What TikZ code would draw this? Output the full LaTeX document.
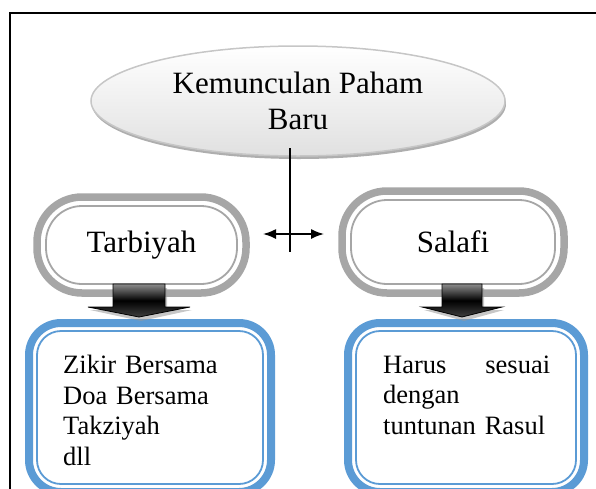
\documentclass[tikz,border=0pt]{standalone}
\usepackage{fontspec}
\setmainfont{Liberation Serif}
\usetikzlibrary{shapes.geometric,arrows.meta,shadows,calc}
\definecolor{boxgray}{HTML}{A6A6A6}
\definecolor{accblue}{HTML}{5B9BD5}
\begin{document}
\begin{tikzpicture}[x=1pt,y=-1pt,
  bigtext/.style={font=\fontsize{31pt}{36pt}\selectfont},
  smalltext/.style={font=\fontsize{26.5pt}{30.7pt}\selectfont},
  grayround/.style={draw=boxgray, line width=7.5pt, fill=white, rounded corners=45pt, inner sep=0pt, outer sep=0pt},
  blueround/.style={draw=accblue, line width=8pt, fill=white, rounded corners=32pt, inner sep=0pt, outer sep=0pt},
  blockarr/.style={draw=black, line width=0.8pt, top color=black!45, bottom color=black!75, middle color=black},
  arrshadow/.style={fill=black!40, opacity=0.55},
  conn/.style={line width=1.6pt},
]
\useasboundingbox (0,0) rectangle (596,488);
\clip (0,0) rectangle (596,488);

% frame
\draw[line width=2.5pt] (10,490) -- (10,13) -- (598,13);

% top ellipse
\node[ellipse, minimum width=414pt, minimum height=110pt, inner sep=0pt,
      draw=gray!45, line width=1.5pt, top color=white, bottom color=gray!24,
      drop shadow={shadow xshift=1pt, shadow yshift=-3pt, fill=gray!85, opacity=0.75},
      bigtext, align=center] (top) at (298,101) {Kemunculan Paham\\Baru};

% gray rounded boxes
\node[grayround, minimum width=209pt, minimum height=96pt, bigtext] (tarb) at (141.5,245) {Tarbiyah};
\draw[boxgray, line width=1.8pt, rounded corners=36pt] ($(tarb.north west)+(9,9)$) rectangle ($(tarb.south east)+(-9,-9)$);
\node[grayround, minimum width=222pt, minimum height=102pt, bigtext] (sal) at (453,242) {Salafi};
\draw[boxgray, line width=1.8pt, rounded corners=36pt] ($(sal.north west)+(9,9)$) rectangle ($(sal.south east)+(-9,-9)$);

% blue boxes
\node[blueround, minimum width=242pt, minimum height=169pt] (lbox) at (150,407.5) {};
\draw[accblue, line width=1.8pt, rounded corners=24pt] ($(lbox.north west)+(8,8)$) rectangle ($(lbox.south east)+(-8,-8)$);
\node[blueround, minimum width=236pt, minimum height=169pt] (rbox) at (466,407.5) {};
\draw[accblue, line width=1.8pt, rounded corners=24pt] ($(rbox.north west)+(8,8)$) rectangle ($(rbox.south east)+(-8,-8)$);

\node[smalltext, anchor=north west, inner sep=0pt, text width=190pt, align=left] (ltext) at (63,355) {Zikir Bersama\\Doa Bersama\\Takziyah\\dll};
\node[smalltext, anchor=north west, inner sep=0pt, text width=167pt, align=left] (rtext) at (383,355.5) {Harus\hfill sesuai\\dengan\\tuntunan Rasul};

% connectors
\coordinate (vtop) at (290,148);
\coordinate (vbot) at (290,252);
\coordinate (hub) at (290,234);
\coordinate (la) at (263,234);
\coordinate (ra) at (324,234);
\draw[conn] (vtop) -- (vbot);
\draw[conn, -{Latex[length=13pt,width=10pt]}] (hub) -- (la);
\draw[conn, -{Latex[length=13pt,width=10pt]}] (hub) -- (ra);

% block arrows
\coordinate (tarr) at (139,284);
\coordinate (sarr) at (462,284);
\fill[arrshadow, shift={(tarr)}] (-24,4) -- (28,4) -- (28,26) -- (53,26) -- (2,37) -- (-49,26) -- (-24,26) -- cycle;
\path[blockarr, shift={(tarr)}] (-26,0) -- (26,0) -- (26,23) -- (51,23) -- (0,33) -- (-51,23) -- (-26,23) -- cycle;
\fill[arrshadow, shift={(sarr)}] (-18,4) -- (22,4) -- (22,26) -- (42,26) -- (2,37) -- (-38,26) -- (-18,26) -- cycle;
\path[blockarr, shift={(sarr)}] (-20,0) -- (20,0) -- (20,23) -- (40,23) -- (0,33) -- (-40,23) -- (-20,23) -- cycle;
\end{tikzpicture}
\end{document}
